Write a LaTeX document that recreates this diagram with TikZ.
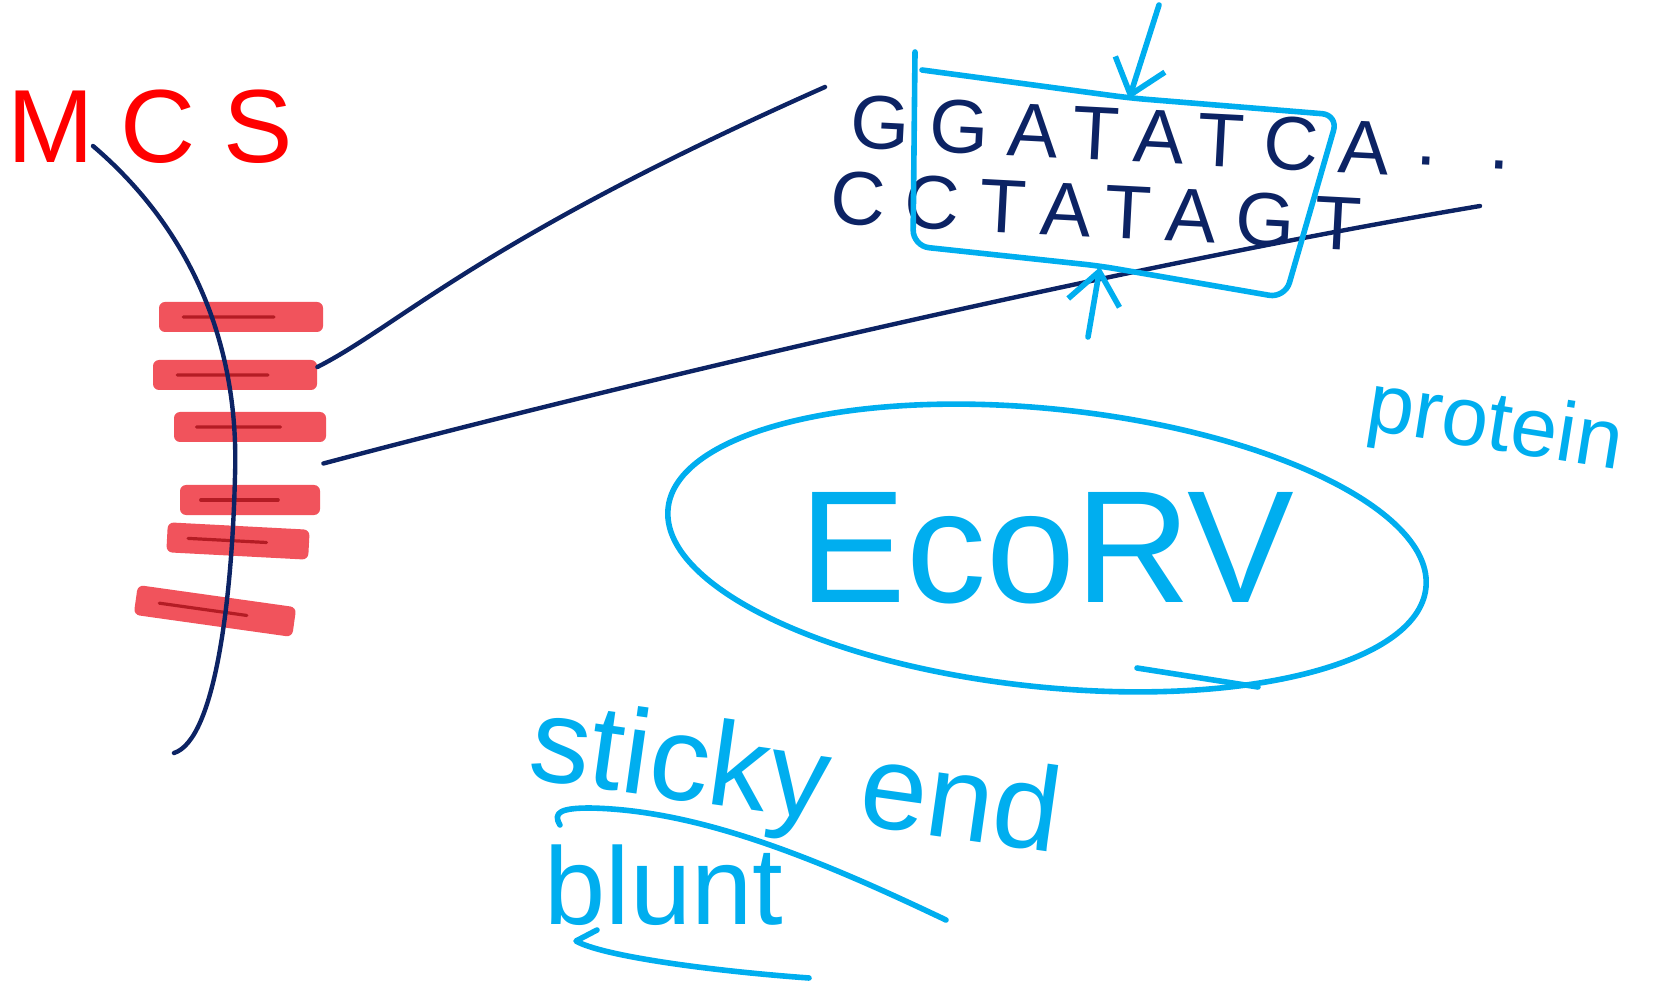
\documentclass[tikz,border=0pt]{standalone}
\usepackage{fontspec}
\setmainfont{Liberation Sans}
\newfontfamily\seqfont[LetterSpace=26]{Liberation Sans}
\usetikzlibrary{arrows.meta,positioning,calc,shapes.geometric}
\definecolor{inknavy}{RGB}{12,35,100}
\definecolor{inkblue}{RGB}{0,174,239}
\definecolor{inkred}{RGB}{255,0,0}
\definecolor{markred}{RGB}{240,64,74}
\definecolor{streakred}{RGB}{180,28,36}
\tikzset{
  vecline/.style={draw=inknavy, line width=2.2pt, line cap=round},
  mcsbar/.style={fill=markred, fill opacity=0.9, minimum height=15pt, inner sep=0pt, rounded corners=3pt},
  streak/.style={draw=streakred, line width=1.6pt, line cap=round},
  seq/.style={text=inknavy, font=\seqfont\fontsize{38}{38}\selectfont, inner sep=0pt, rotate=-3},
  siteline/.style={draw=inkblue, line width=2.8pt, line cap=round, line join=round},
  cutarrow/.style={siteline, -{Straight Barb[length=16pt, width=26pt]}},
  note/.style={text=inkblue, inner sep=0pt}
}
\begin{document}
\begin{tikzpicture}[x=0.5pt, y=-0.5pt]
\useasboundingbox (0,0) rectangle (1658,983);
% multiple cloning site on the vector
\node[text=inkred, font=\seqfont\fontsize{52}{52}\selectfont] (mcs) at (150,127) {MCS};
\foreach \i/\x/\y/\w/\a in {1/241/317/82/0, 2/235/375/82/0, 3/250/427/76/0, 4/250/500/70/0, 5/238/541/71/-3, 6/215/611/80/-8}{
  \node[mcsbar, minimum width=\w pt, rotate=\a] (bar\i) at (\x,\y) {};
  \draw[streak] ($(bar\i.west)!0.15!(bar\i.east)$) -- ($(bar\i.west)!0.7!(bar\i.east)$);
}
\draw[vecline] (93,146) .. controls (180,220) and (240,330) .. (235,476)
  .. controls (232,600) and (215,740) .. (174,753);

% recognition site
\node[seq] (gtop) at (1120,135) {GGATATCA};
\node[seq] (dots) at (1463,163) {.\hspace{26pt}.};
\node[seq] (gbot) at (1096,211) {CCTATAGT};
\coordinate (seqin) at (825,87);
\coordinate (seqout) at (1480,206);
\draw[vecline] ([yshift=4pt]bar2.east) .. controls (400,325) and (480,240) .. (seqin);
\draw[vecline] ($(bar3.east)!0.5!(bar4.east)$) .. controls (600,390) and (1100,270) .. (seqout);

\draw[siteline, rounded corners=8pt] (915,52) -- (913,246) -- (1100,266) -- (1285,298)
  -- (1338,115) -- (1130,98) -- (922,70);
\coordinate (cuttop) at (1129,99);
\coordinate (cutbot) at (1100,267);
\coordinate (toptail) at (1159,5);
\coordinate (bottail) at (1088,337);
\draw[cutarrow] (toptail) -- (cuttop);
\draw[cutarrow] (bottail) -- (cutbot);

% enzyme
\node[draw=inkblue, line width=2.8pt, ellipse, minimum width=381pt, minimum height=139pt,
      inner sep=0pt, rotate=-6] (enzyme) at (1047,548) {};
\node[note, font=\fontsize{80}{80}\selectfont] (ecorv) at (enzyme.center) {EcoRV};
\draw[siteline] (1137,668) -- (1258,687);
\node[note, font=\fontsize{42}{42}\selectfont, rotate=-9] (prot) at (1495,428) {protein};

% ends
\node[note, font=\fontsize{60}{60}\selectfont, rotate=-8] (sticky) at (795,785) {sticky end};
\node[note, font=\fontsize{55}{55}\selectfont] (blunt) at (664,885) {blunt};
\draw[siteline] (560,825) .. controls (552,812) and (562,808) .. (590,808)
  .. controls (700,810) and (820,860) .. (946,920);
\draw[siteline] (597,930) -- (576,941) .. controls (600,955) and (700,970) .. (809,978);
\end{tikzpicture}
\end{document}
